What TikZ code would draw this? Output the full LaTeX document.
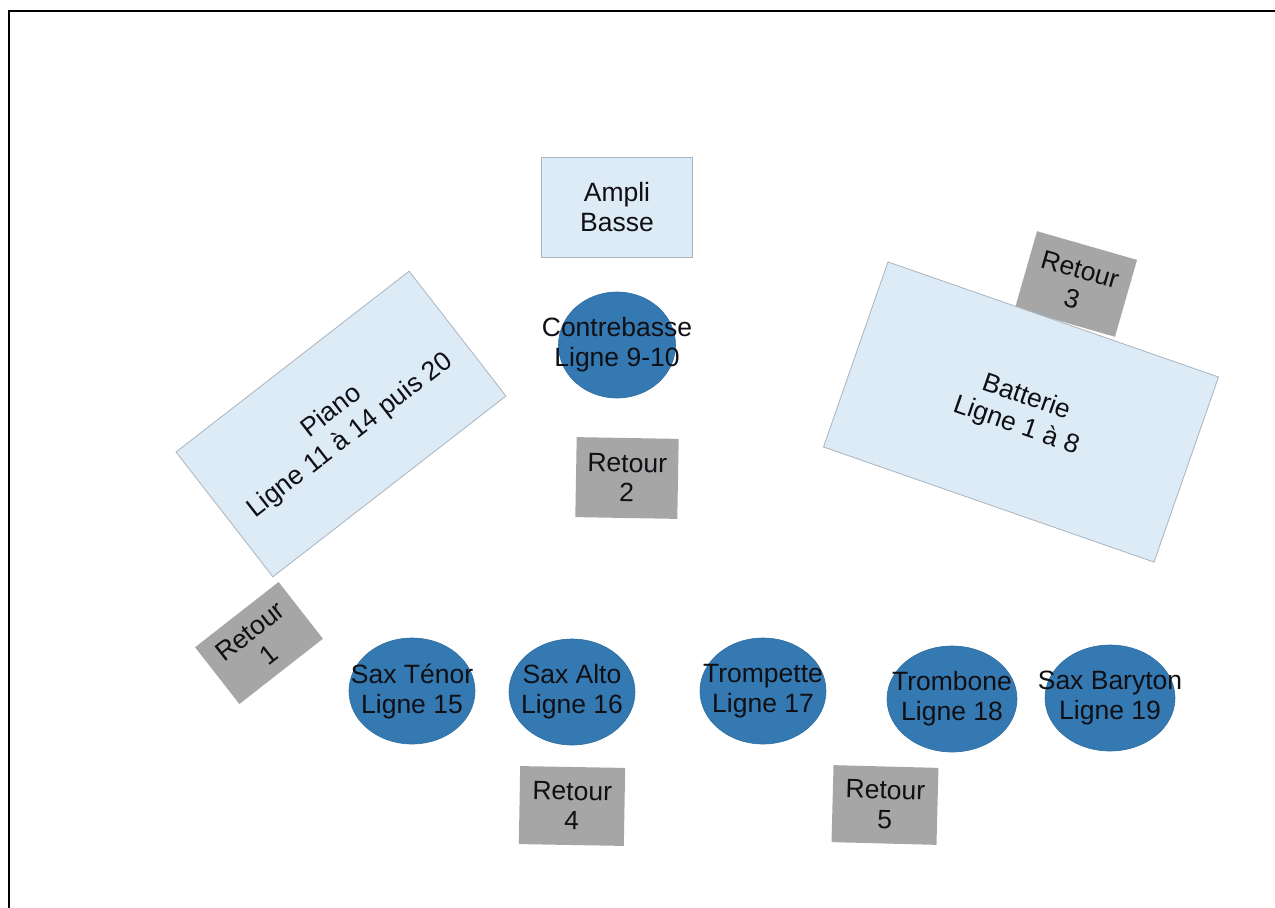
\documentclass[tikz,border=0pt]{standalone}
\usepackage{fontspec}
\setmainfont{Liberation Sans}
\usetikzlibrary{shapes.geometric}
\definecolor{boxblue}{RGB}{221,235,247}
\definecolor{boxedge}{RGB}{170,180,190}
\definecolor{retgray}{RGB}{166,166,166}
\definecolor{musblue}{RGB}{52,121,178}
\definecolor{txt}{RGB}{15,15,20}
\tikzset{
  lbl/.style={font=\fontsize{26.5}{30}\selectfont, text=txt, align=center, inner sep=0pt},
  bluebox/.style={lbl, rectangle, fill=boxblue, draw=boxedge, line width=0.8pt},
  retourbox/.style={lbl, rectangle, fill=retgray, draw=none},
  musician/.style={ellipse, fill=musblue, draw=musblue!90!black, line width=0.6pt, inner sep=0pt, minimum width=126pt, minimum height=106pt},
}
\begin{document}
\begin{tikzpicture}[x=1pt,y=-1pt]
\useasboundingbox[fill=white] (0,0) rectangle (1275,908);
\coordinate (fbl) at (9,908);
\coordinate (ftl) at (9,11);
\coordinate (ftr) at (1275,11);
\draw[line width=2pt] (fbl) -- (ftl) -- (ftr);

% amp and bass
\node[bluebox, minimum width=151pt, minimum height=100pt] (ampli) at (617,207) {Ampli\\Basse};
\node[musician, minimum width=117pt] (contrebasse) at (617,345) {};
\node[lbl] (contrebasselbl) at (contrebasse) {Contrebasse\\Ligne 9-10};
\node[retourbox, minimum width=102pt, minimum height=80pt, rotate=-1] (r2) at (627,478) {Retour\\2};

% piano
\node[bluebox, minimum width=295pt, minimum height=158pt, rotate=37.8] (piano) at (341,424) {Piano\\Ligne 11 à 14 puis 20};
\node[retourbox, minimum width=106pt, minimum height=72pt, rotate=38] (r1) at (259,643) {Retour\\1};

% drums
\node[retourbox, minimum width=104pt, minimum height=80pt, rotate=-16] (r3) at (1076,284) {Retour\\3};
\node[bluebox, minimum width=350pt, minimum height=196pt, rotate=-19.2] (batterie) at (1021,412) {Batterie\\Ligne 1 à 8};

% front line
\node[musician] (tenor) at (412,691) {};
\node[lbl] (tenorlbl) at (tenor) {Sax Ténor\\Ligne 15};
\node[musician] (alto) at (572,692) {};
\node[lbl] (altolbl) at (alto) {Sax Alto\\Ligne 16};
\node[musician] (trompette) at (763,691) {};
\node[lbl] (trompettelbl) at (trompette) {Trompette\\Ligne 17};
\node[musician, minimum width=130pt] (trombone) at (952,699) {};
\node[lbl] (trombonelbl) at (trombone) {Trombone\\Ligne 18};
\node[musician, minimum width=130pt] (baryton) at (1110,698) {};
\node[lbl] (barytonlbl) at (baryton) {Sax Baryton\\Ligne 19};

\node[retourbox, minimum width=105pt, minimum height=78pt, rotate=-1] (r4) at (572,806) {Retour\\4};
\node[retourbox, minimum width=105pt, minimum height=77pt, rotate=-1.5] (r5) at (885,805) {Retour\\5};
\end{tikzpicture}
\end{document}
